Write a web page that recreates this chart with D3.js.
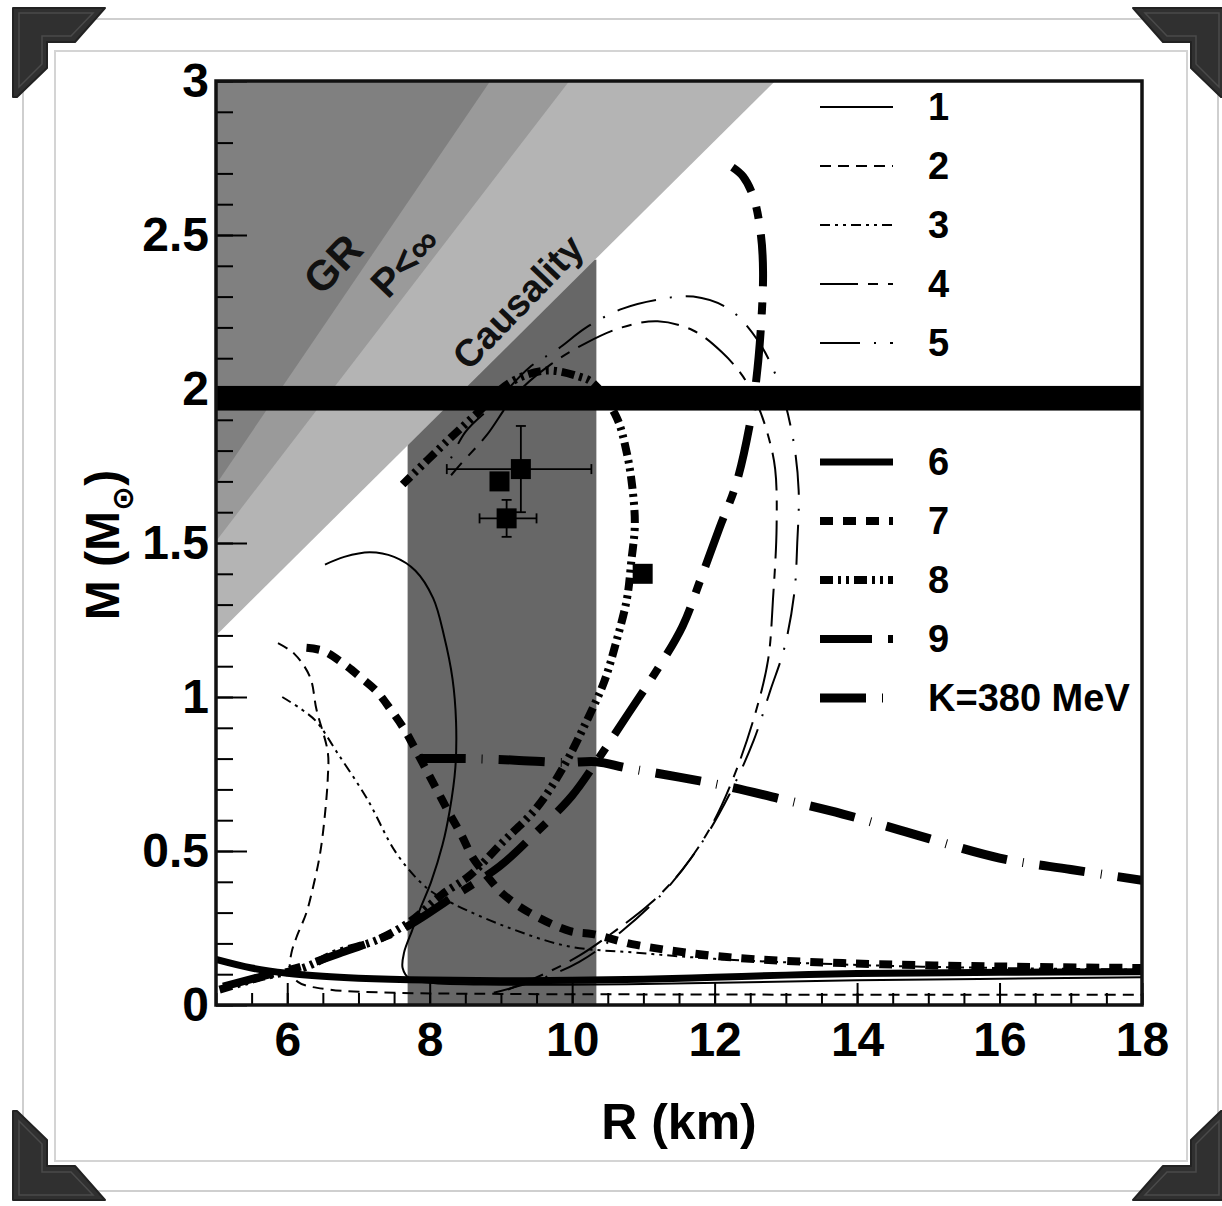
<!DOCTYPE html>
<html>
<head>
<meta charset="utf-8">
<script src="https://cdn.jsdelivr.net/npm/d3@7"></script>
<style>
  body { margin: 0; background: #fff; }
  svg text { font-family: "Liberation Sans", Arial, sans-serif; font-weight: bold; }
</style>
</head>
<body>
<div class="chart"></div>
<script>
// mass-radius curves, [R (km), M (Msun)]
const curve1 = [[6.53,1.43],[6.8,1.455],[7.16,1.47],[7.5,1.455],[7.8,1.41],[8.05,1.32],[8.2,1.2],[8.32,1.06],[8.37,0.92],[8.36,0.77],[8.28,0.63],[8.18,0.52],[8.02,0.4],[7.88,0.32],[7.75,0.24],[7.64,0.17],[7.62,0.12],[7.72,0.085],[8.0,0.072],[9,0.066],[11,0.068],[14,0.08],[18,0.09]];
const curve2 = [[5.87,1.175],[6.1,1.14],[6.32,1.065],[6.41,0.96],[6.57,0.82],[6.57,0.74],[6.53,0.62],[6.46,0.49],[6.36,0.38],[6.27,0.3],[6.13,0.22],[6.06,0.17],[6.04,0.12],[6.15,0.075],[6.6,0.05],[7.5,0.04],[9,0.036],[12,0.034],[15,0.033],[18,0.033]];
const curve3 = [[5.93,1.0],[6.2,0.96],[6.41,0.92],[6.7,0.82],[7.12,0.67],[7.54,0.49],[7.96,0.38],[8.32,0.33],[9.12,0.25],[9.96,0.19],[10.9,0.17],[12,0.15],[14,0.13],[16,0.12],[18,0.115]];
const curve4 = [[9.1,0.05],[9.6,0.1],[10.1,0.16],[10.6,0.24],[11.1,0.33],[11.55,0.44],[11.95,0.58],[12.25,0.73],[12.55,0.93],[12.75,1.12],[12.82,1.32],[12.87,1.55],[12.85,1.74],[12.75,1.85],[12.6,1.95],[12.4,2.04],[12.1,2.12],[11.7,2.19],[11.2,2.22],[10.7,2.2],[10.2,2.15],[9.7,2.08],[9.2,1.98],[8.8,1.85],[8.45,1.76],[8.3,1.72]];
const curve5 = [[8.9,0.04],[9.5,0.08],[10.1,0.14],[10.7,0.24],[11.3,0.37],[11.8,0.52],[12.2,0.68],[12.55,0.86],[12.78,1.02],[12.98,1.16],[13.12,1.34],[13.16,1.5],[13.18,1.67],[13.1,1.84],[12.9,2.02],[12.6,2.16],[12.2,2.26],[11.7,2.3],[11.2,2.29],[10.7,2.26],[10.2,2.2],[9.8,2.13],[9.4,2.07],[8.9,1.95],[8.5,1.86],[8.25,1.75]];
const curve6 = [[5,0.148],[5.5,0.12],[6,0.103],[6.5,0.093],[7,0.087],[8,0.081],[9,0.079],[10,0.08],[11,0.084],[12,0.09],[13,0.097],[14,0.102],[16,0.106],[18,0.108]];
const curve7 = [[6.27,1.16],[6.5,1.15],[6.78,1.11],[7.05,1.06],[7.25,1.02],[7.45,0.96],[7.63,0.9],[7.8,0.83],[7.96,0.76],[8.12,0.69],[8.28,0.62],[8.45,0.55],[8.6,0.48],[8.8,0.42],[9.03,0.36],[9.4,0.3],[9.97,0.24],[10.29,0.23],[10.9,0.195],[12.17,0.156],[13.8,0.136],[16,0.125],[18,0.12]];
const curve8 = [[5.05,0.05],[5.2,0.06],[5.62,0.09],[6.22,0.12],[6.7,0.17],[7.25,0.21],[7.72,0.27],[8.18,0.36],[8.56,0.42],[9.03,0.53],[9.5,0.64],[9.87,0.77],[10.2,0.92],[10.45,1.05],[10.62,1.18],[10.77,1.32],[10.83,1.44],[10.88,1.56],[10.84,1.69],[10.76,1.8],[10.62,1.91],[10.29,2.02],[10.1,2.04],[9.64,2.06],[9.12,2.02],[8.66,1.92],[8.24,1.83],[7.62,1.69]];
const curve9 = [[5.1,0.06],[5.6,0.09],[6.2,0.125],[6.7,0.165],[7.3,0.215],[7.72,0.26],[8.32,0.35],[8.98,0.45],[9.45,0.55],[10.0,0.68],[10.34,0.79],[10.8,0.95],[11.17,1.08],[11.55,1.23],[11.8,1.38],[12.07,1.55],[12.3,1.69],[12.49,1.88],[12.58,2.02],[12.65,2.2],[12.68,2.38],[12.65,2.5],[12.55,2.62],[12.4,2.69],[12.25,2.72]];
const curveK = [[7.86,0.8],[8.5,0.8],[9.2,0.795],[9.9,0.787],[10.34,0.79],[10.76,0.77],[11.5,0.74],[12.17,0.71],[13,0.665],[13.8,0.62],[14.6,0.568],[16,0.477],[17,0.44],[18,0.405]];

const legendLabels = ["1","2","3","4","5","6","7","8","9","K=380 MeV"];
const curves = [curve1, curve2, curve3, curve4, curve5, curve6, curve7, curve8, curve9, curveK];

// limits: [R, M] end points of each boundary line
const grLine = [[5,1.69],[8.85,3]];
const pLine = [[5,1.506],[9.96,3]];
const causalityLine = [[5,1.2],[12.85,3]];
const radiusBand = [7.69, 10.34, 2.42];   // R from, R to, M top
const massBand = [1.93, 2.01];

// observed stars: R, M, error ranges
const stars = [
  {R: 8.98, M: 1.70},
  {R: 9.28, M: 1.74, rx: [8.24, 10.27], my: [1.60, 1.88]},
  {R: 9.08, M: 1.58, rx: [8.7, 9.5], my: [1.52, 1.64]},
  {R: 10.99, M: 1.40}
];

const xTicks = [6, 8, 10, 12, 14, 16, 18];
const yTicks = [0, 0.5, 1, 1.5, 2, 2.5, 3];

// line styles per curve
const styles = [
  {w: 2, dash: null},
  {w: 2, dash: "11,7"},
  {w: 2, dash: "10,5,3,5,3,5"},
  {w: 2, dash: "38,10,10,10"},
  {w: 2, dash: "40,14,2,14"},
  {w: 7, dash: null},
  {w: 8, dash: "13,10"},
  {w: 8, dash: "13,5,3,5,3,5"},
  {w: 8, dash: "52,16,12,16"},
  {w: 9, dash: "46,16,1,16"}
];

const W = 1222, H = 1206;
const svg = d3.select(".chart").append("svg")
    .attr("width", W).attr("height", H);

// picture frame
svg.append("rect").attr("x", 23).attr("y", 19).attr("width", 1195).attr("height", 1172)
    .attr("fill", "#fff").attr("stroke", "#cfcfcf").attr("stroke-width", 2);
svg.append("rect").attr("x", 55).attr("y", 51).attr("width", 1132).attr("height", 1110)
    .attr("fill", "#fff").attr("stroke", "#d4d4d4").attr("stroke-width", 2);

const x = d3.scaleLinear().domain([5, 18]).range([216, 1142]);
const y = d3.scaleLinear().domain([0, 3]).range([1005, 81]);

const plot = svg.append("g");
svg.append("clipPath").attr("id", "clip").append("rect")
    .attr("x", x(5)).attr("y", y(3)).attr("width", x(18) - x(5)).attr("height", y(0) - y(3));
const inner = plot.append("g").attr("clip-path", "url(#clip)");

// radius band
inner.append("rect")
    .attr("x", x(radiusBand[0])).attr("y", y(radiusBand[2]))
    .attr("width", x(radiusBand[1]) - x(radiusBand[0]))
    .attr("height", y(0) - y(radiusBand[2]))
    .attr("fill", "#676767");

const region = line => [[5, 3], line[0], line[1]].map(d => [x(d[0]), y(d[1])]).join("L");
inner.append("path").attr("d", "M" + region(causalityLine) + "Z").attr("fill", "#b4b4b4");
inner.append("path").attr("d", "M" + region(pLine) + "Z").attr("fill", "#9a9a9a");
inner.append("path").attr("d", "M" + region(grLine) + "Z").attr("fill", "#808080");

// 2 Msun band
inner.append("rect")
    .attr("x", x(5)).attr("y", y(massBand[1]))
    .attr("width", x(18) - x(5)).attr("height", y(massBand[0]) - y(massBand[1]))
    .attr("fill", "#000");

// region labels
const regionLabels = [
  {t: "GR", cx: 333, cy: 264, size: 42},
  {t: "P<∞", cx: 405, cy: 262, size: 40},
  {t: "Causality", cx: 518, cy: 302, size: 38}
];
inner.selectAll(".rlab").data(regionLabels).join("text")
    .attr("class", "rlab")
    .attr("transform", d => `translate(${d.cx},${d.cy}) rotate(-46)`)
    .attr("text-anchor", "middle").attr("dominant-baseline", "central")
    .attr("font-size", d => d.size)
    .attr("fill", "#111")
    .text(d => d.t);

const line = d3.line().x(d => x(d[0])).y(d => y(d[1])).curve(d3.curveCatmullRom.alpha(0.5));

inner.selectAll(".curve").data(curves).join("path")
    .attr("class", "curve")
    .attr("d", line)
    .attr("fill", "none")
    .attr("stroke", "#000")
    .attr("stroke-width", (d, i) => styles[i].w)
    .attr("stroke-dasharray", (d, i) => styles[i].dash);

// stars with error bars
const starG = inner.append("g");
stars.filter(d => d.rx).forEach(d => {
  starG.append("line").attr("x1", x(d.rx[0])).attr("x2", x(d.rx[1]))
      .attr("y1", y(d.M)).attr("y2", y(d.M)).attr("stroke", "#000").attr("stroke-width", 1.8);
  starG.append("line").attr("x1", x(d.R)).attr("x2", x(d.R))
      .attr("y1", y(d.my[0])).attr("y2", y(d.my[1])).attr("stroke", "#000").attr("stroke-width", 1.8);
  [[x(d.rx[0]), y(d.M), 0], [x(d.rx[1]), y(d.M), 0], [x(d.R), y(d.my[0]), 1], [x(d.R), y(d.my[1]), 1]].forEach(c => {
    starG.append("line")
        .attr("x1", c[2] ? c[0] - 5 : c[0]).attr("x2", c[2] ? c[0] + 5 : c[0])
        .attr("y1", c[2] ? c[1] : c[1] - 5).attr("y2", c[2] ? c[1] : c[1] + 5)
        .attr("stroke", "#000").attr("stroke-width", 1.8);
  });
});
starG.selectAll("rect").data(stars).join("rect")
    .attr("x", d => x(d.R) - 10).attr("y", d => y(d.M) - 10)
    .attr("width", 20).attr("height", 20).attr("fill", "#000");

// axes: ticks inside
const xMinor = d3.range(5, 18.01, 0.5);
const yMinor = d3.range(0, 3.001, 0.1);
plot.append("g").attr("transform", `translate(0,${y(0)})`)
    .call(d3.axisBottom(x).tickValues(xMinor).tickSize(-12).tickFormat(""))
    .call(g => g.select(".domain").remove());
plot.append("g").attr("transform", `translate(0,${y(0)})`)
    .call(d3.axisBottom(x).tickValues(xTicks).tickSize(-22).tickPadding(17).tickFormat(d3.format("d")))
    .call(g => g.select(".domain").remove())
    .call(g => g.selectAll("text").attr("font-size", 48).attr("fill", "#000").attr("font-family", null));
plot.append("g").attr("transform", `translate(${x(5)},0)`)
    .call(d3.axisLeft(y).tickValues(yMinor).tickSize(-17).tickFormat(""))
    .call(g => g.select(".domain").remove());
plot.append("g").attr("transform", `translate(${x(5)},0)`)
    .call(d3.axisLeft(y).tickValues(yTicks).tickSize(-31).tickPadding(7).tickFormat(d => String(d)))
    .call(g => g.select(".domain").remove())
    .call(g => g.selectAll("text").attr("font-size", 48).attr("fill", "#000").attr("font-family", null));
plot.selectAll(".tick line").attr("stroke", "#000").attr("stroke-width", 2);

plot.append("rect")
    .attr("x", x(5)).attr("y", y(3)).attr("width", x(18) - x(5)).attr("height", y(0) - y(3))
    .attr("fill", "none").attr("stroke", "#111").attr("stroke-width", 3.5);

// legend
const legendY = i => i < 5 ? 107 + i * 59 : 462 + (i - 5) * 59;
const leg = svg.append("g");
legendLabels.forEach((lab, i) => {
  leg.append("line").attr("x1", 820).attr("x2", 893)
      .attr("y1", legendY(i)).attr("y2", legendY(i))
      .attr("stroke", "#000").attr("stroke-width", styles[i].w)
      .attr("stroke-dasharray", styles[i].dash);
  leg.append("text").attr("x", 928).attr("y", legendY(i))
      .attr("dominant-baseline", "central").attr("font-size", 38)
      .text(lab);
});

// axis titles
svg.append("text").attr("x", 679).attr("y", 1139).attr("text-anchor", "middle")
    .attr("font-size", 50).text("R (km)");
const yt = svg.append("text").attr("transform", "translate(119,545) rotate(-90)")
    .attr("text-anchor", "middle").attr("font-size", 48);
yt.append("tspan").text("M (M");
yt.append("tspan").attr("font-size", 30).attr("dy", 14).attr("font-family", "DejaVu Sans").text("⊙");
yt.append("tspan").attr("dy", -14).text(")");

// corner ornaments
const cornerPts = [[0,0],[92,0],[62,34],[34,34],[34,60],[4,89],[0,89]];
const cornerIn = [[6,5],[80,5],[58,28],[29,28],[29,56],[6,79]];
[[13, 8, 1, 1], [1225, 8, -1, 1], [13, 1200, 1, -1], [1225, 1200, -1, -1]].forEach(c => {
  const g = svg.append("g").attr("transform", `translate(${c[0]},${c[1]}) scale(${c[2]},${c[3]})`);
  g.append("path").attr("d", "M" + cornerPts.join("L") + "Z")
      .attr("fill", "#303030").attr("stroke", "#222").attr("stroke-width", 2).attr("stroke-linejoin", "round");
  g.append("path").attr("d", "M" + cornerIn.join("L") + "Z")
      .attr("fill", "none").attr("stroke", "#4a4a4a").attr("stroke-width", 1.5);
});
</script>
</body>
</html>
